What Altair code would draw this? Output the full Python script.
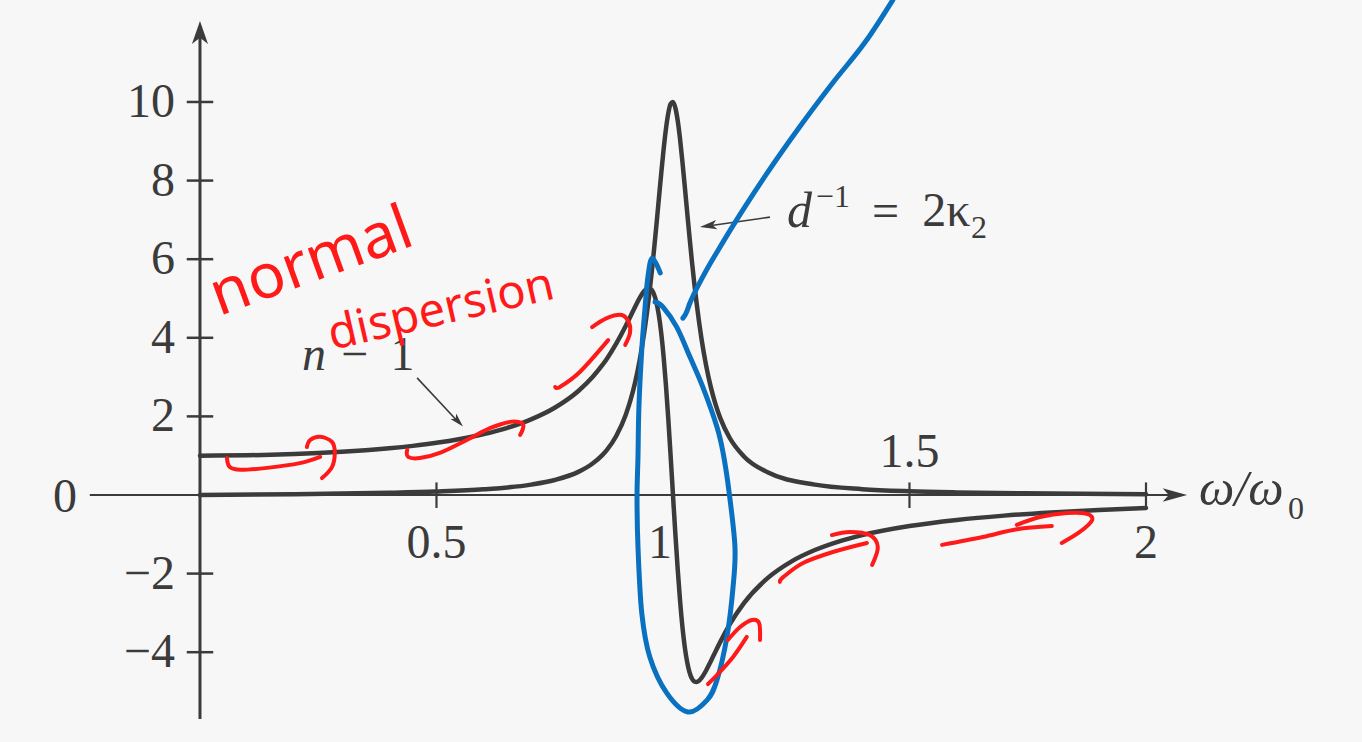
import altair as alt
import pandas as pd

# ---------------------------------------------------------------
# Data: refractive index (n - 1) and absorption (d^-1 = 2 kappa_2)
# of a damped oscillator versus reduced frequency omega / omega_0
# ---------------------------------------------------------------
disp_w = [0.0, 0.1, 0.15, 0.2, 0.25, 0.3, 0.35, 0.4, 0.45, 0.5, 0.55, 0.6, 0.65, 0.7,
          0.75, 0.8, 0.83, 0.85, 0.86, 0.88, 0.9, 0.91, 0.92, 0.93, 0.94, 0.945, 0.95,
          0.955, 0.96, 0.965, 0.97, 0.975, 0.98, 0.985, 0.99, 0.995, 1.0, 1.005, 1.01,
          1.015, 1.02, 1.025, 1.03, 1.035, 1.04, 1.045, 1.05, 1.055, 1.06, 1.07, 1.08,
          1.09, 1.1, 1.12, 1.15, 1.2, 1.25, 1.3, 1.35, 1.4, 1.5, 1.6, 1.7, 1.8, 1.9, 2.0]
disp_n1 = [1.0, 1.01, 1.023, 1.041, 1.066, 1.098, 1.138, 1.188, 1.25, 1.327, 1.425, 1.549,
           1.71, 1.925, 2.221, 2.647, 3.001, 3.296, 3.462, 3.85, 4.299, 4.544, 4.792, 5.022,
           5.199, 5.25, 5.262, 5.218, 5.103, 4.898, 4.581, 4.134, 3.545, 2.812, 1.952, 0.998,
           0.0, -0.983, -1.895, -2.695, -3.357, -3.874, -4.253, -4.512, -4.67, -4.746,
           -4.761, -4.728, -4.662, -4.466, -4.229, -3.98, -3.737, -3.293, -2.752, -2.115,
           -1.694, -1.4, -1.184, -1.02, -0.789, -0.634, -0.525, -0.444, -0.381, -0.332]

abs_w = [0.0, 0.2, 0.4, 0.5, 0.6, 0.7, 0.75, 0.8, 0.83, 0.85, 0.86, 0.88, 0.9, 0.91, 0.92,
         0.93, 0.94, 0.945, 0.95, 0.955, 0.96, 0.965, 0.97, 0.975, 0.98, 0.985, 0.99, 0.995,
         1.0, 1.005, 1.01, 1.015, 1.02, 1.025, 1.03, 1.035, 1.04, 1.045, 1.05, 1.055, 1.06,
         1.07, 1.08, 1.09, 1.1, 1.12, 1.15, 1.2, 1.3, 1.4, 1.5, 1.6, 1.8, 2.0]
abs_k = [0.0, 0.022, 0.057, 0.089, 0.145, 0.264, 0.381, 0.588, 0.801, 1.009, 1.143, 1.502,
         2.036, 2.405, 2.87, 3.457, 4.198, 4.638, 5.127, 5.664, 6.249, 6.872, 7.518, 8.163,
         8.772, 9.3, 9.708, 9.95, 10.0, 9.85, 9.524, 9.05, 8.475, 7.843, 7.194, 6.557, 5.951,
         5.39, 4.877, 4.413, 3.998, 3.298, 2.745, 2.306, 1.957, 1.45, 0.981, 0.577, 0.264,
         0.149, 0.095, 0.065, 0.036, 0.022]

# Axis ticks and their labels
y_ticks = [10, 8, 6, 4, 2, -2, -4]
y_tick_labels = ["10", "8", "6", "4", "2", "\u22122", "\u22124"]
x_ticks = [0.5, 1.0, 1.5, 2.0]
x_tick_labels = ["0.5", "1", "1.5", "2"]

# Blue pen annotations (each stroke: x list, y list)
blue_line_x = [1.021, 1.027, 1.036, 1.063, 1.106, 1.152, 1.199, 1.268, 1.338, 1.408, 1.465]
blue_line_y = [4.50, 4.61, 4.89, 5.55, 6.44, 7.33, 8.19, 9.37, 10.49, 11.55, 12.60]
blue_loop_x = [0.973, 0.956, 0.947, 0.941, 0.934, 0.928, 0.926, 0.924, 0.926, 0.934, 0.951,
               0.987, 1.032, 1.072, 1.093, 1.114, 1.127, 1.131, 1.118, 1.106, 1.093, 1.063,
               1.036, 1.008, 0.979, 0.962]
blue_loop_y = [5.65, 6.03, 5.55, 4.78, 3.69, 2.24, 0.97, -0.05, -1.32, -3.00, -4.12, -5.04,
               -5.52, -5.22, -4.71, -3.61, -2.34, -1.32, 0.13, 1.07, 1.73, 2.75, 3.51, 4.27,
               4.78, 4.91]

# Red pen arrows along the n - 1 curve
red_strokes = [
    ([0.057, 0.063, 0.085, 0.142, 0.211, 0.254], [0.94, 0.71, 0.64, 0.69, 0.81, 0.97]),
    ([0.226, 0.233, 0.254, 0.279, 0.285, 0.279, 0.258], [1.22, 1.40, 1.48, 1.35, 1.07, 0.71, 0.43]),
    ([0.438, 0.440, 0.465, 0.507, 0.564, 0.613, 0.655, 0.681, 0.683, 0.677],
     [1.15, 0.97, 0.94, 1.07, 1.40, 1.70, 1.86, 1.83, 1.70, 1.53]),
    ([0.751, 0.761, 0.803, 0.863], [2.75, 2.75, 3.13, 3.94]),
    ([0.829, 0.860, 0.892, 0.907, 0.909, 0.899], [4.27, 4.50, 4.58, 4.38, 4.12, 3.82]),
    ([1.074, 1.093, 1.127, 1.156], [-4.81, -4.58, -4.12, -3.61]),
    ([1.116, 1.142, 1.167, 1.182, 1.184], [-3.69, -3.36, -3.18, -3.26, -3.69]),
    ([1.226, 1.233, 1.275, 1.338, 1.410], [-2.21, -2.09, -1.73, -1.45, -1.22]),
    ([1.336, 1.374, 1.416, 1.433, 1.421], [-1.02, -0.94, -1.02, -1.32, -1.78]),
    ([1.569, 1.655, 1.727, 1.801], [-1.27, -1.07, -0.87, -0.79]),
    ([1.727, 1.776, 1.833, 1.875, 1.886, 1.860, 1.822], [-0.76, -0.56, -0.46, -0.48, -0.64, -0.94, -1.22]),
]

# ---------------------------------------------------------------
W, H = 1362, 742
X_DOM = [-0.4228, 2.4567]
Y_DOM = [-6.285, 12.595]
INK = "#3b3b3b"
RED = "#ff1a1a"
BLUE = "#0a70c0"
SERIF = "Liberation Serif"
ARROW = "M0,0 L-2,-0.7 L-1.45,0 L-2,0.7 Z"
ARROW_NARROW = "M0,0 L-2,-0.55 L-1.5,0 L-2,0.55 Z"
LAB = 48

xs = alt.Scale(domain=X_DOM, nice=False, zero=False)
ys = alt.Scale(domain=Y_DOM, nice=False, zero=False)


def X(f="x"):
    return alt.X(f"{f}:Q", scale=xs, axis=None)


def Y(f="y"):
    return alt.Y(f"{f}:Q", scale=ys, axis=None)


def strokes_df(strokes):
    rows = []
    for k, (sx, sy) in enumerate(strokes):
        for i, (a, b) in enumerate(zip(sx, sy)):
            rows.append({"x": a, "y": b, "s": k, "i": i})
    return pd.DataFrame(rows)


def text(df, **kw):
    return alt.Chart(df).mark_text(**kw).encode(x=X(), y=Y(), text="t:N")


def head(x, y, angle, size, shape=ARROW, color=INK):
    return alt.Chart(pd.DataFrame({"x": [x], "y": [y]})).mark_point(
        shape=shape, filled=True, size=size, angle=angle, color=color, opacity=1, strokeWidth=0
    ).encode(x=X(), y=Y())


# axes
y_axis = alt.Chart(pd.DataFrame({"x": [0.0], "y": [-5.7], "y2": [11.7]})).mark_rule(
    color=INK, strokeWidth=3).encode(x=X(), y=Y(), y2="y2:Q")
x_axis = alt.Chart(pd.DataFrame({"x": [-0.233], "x2": [2.07], "y": [0.0]})).mark_rule(
    color=INK, strokeWidth=2.2).encode(x=X(), x2="x2:Q", y=Y())
y_tick_marks = alt.Chart(pd.DataFrame({"y": y_ticks})).mark_rule(
    color=INK, strokeWidth=2.5).encode(x=alt.X("a:Q", scale=xs, axis=None), x2="b:Q", y=Y()
).transform_calculate(a="-0.028", b="0.028")
x_tick_marks = alt.Chart(pd.DataFrame({"x": x_ticks})).mark_rule(
    color=INK, strokeWidth=2.2).encode(x=X(), y=alt.Y("a:Q", scale=ys, axis=None), y2="b:Q"
).transform_calculate(a="0.32", b="-0.33")

y_arrow = head(0.0, 12.06, 270, 530, ARROW)
x_arrow = head(2.087, 0.0, 0, 600, ARROW_NARROW)

# tick labels
y_lab_df = pd.DataFrame({"x": [-0.053] * len(y_ticks),
                         "y": [v - 0.38 for v in y_ticks], "t": y_tick_labels})
y_labels = text(y_lab_df, font=SERIF, fontSize=LAB, align="right", baseline="alphabetic", color=INK)
zero_label = text(pd.DataFrame({"x": [-0.26], "y": [-0.43], "t": ["0"]}),
                  font=SERIF, fontSize=LAB, align="right", baseline="alphabetic", color=INK)
x_lab_x = [v - 0.0275 if v == 1.0 else v for v in x_ticks]
x_lab_y = [0.71 if v == 1.5 else -1.6 for v in x_ticks]
x_labels = text(pd.DataFrame({"x": x_lab_x, "y": x_lab_y, "t": x_tick_labels}),
                font=SERIF, fontSize=LAB, align="center", baseline="alphabetic", color=INK)

omega = text(pd.DataFrame({"x": [2.112], "y": [-0.25], "t": ["\u03c9/\u03c9"]}),
             font=SERIF, fontSize=50, fontStyle="italic", align="left", baseline="alphabetic", color=INK)
omega_sub = text(pd.DataFrame({"x": [2.300], "y": [-0.6], "t": ["0"]}),
                 font=SERIF, fontSize=32, align="left", baseline="alphabetic", color=INK)

# curves
disp = alt.Chart(pd.DataFrame({"x": disp_w, "y": disp_n1})).mark_line(
    color=INK, strokeWidth=4.5, interpolate="monotone", strokeCap="round").encode(x=X(), y=Y())
absorb = alt.Chart(pd.DataFrame({"x": abs_w, "y": abs_k})).mark_line(
    color=INK, strokeWidth=4.5, interpolate="monotone", strokeCap="round").encode(x=X(), y=Y())

# curve labels and pointers
n_lab = text(pd.DataFrame({"x": [0.2156], "y": [3.18], "t": ["n"]}),
             font=SERIF, fontSize=LAB, fontStyle="italic", align="left", baseline="alphabetic", color=INK)
minus_lab = text(pd.DataFrame({"x": [0.298], "y": [3.18], "t": ["\u2212"]}),
                 font=SERIF, fontSize=LAB, align="left", baseline="alphabetic", color=INK)
one_lab = text(pd.DataFrame({"x": [0.403], "y": [3.18], "t": ["1"]}),
               font=SERIF, fontSize=LAB, align="left", baseline="alphabetic", color=INK)
n_ptr = alt.Chart(pd.DataFrame({"x": [0.459], "y": [2.98], "x2": [0.548], "y2": [1.83]})).mark_rule(
    color=INK, strokeWidth=1.6).encode(x=X(), y=Y(), x2="x2:Q", y2="y2:Q")
n_head = head(0.556, 1.74, 47, 200, ARROW_NARROW)

d_lab = text(pd.DataFrame({"x": [1.241], "y": [6.82], "t": ["d"]}),
             font=SERIF, fontSize=50, fontStyle="italic", align="left", baseline="alphabetic", color=INK)
d_sup = text(pd.DataFrame({"x": [1.302], "y": [7.33], "t": ["\u22121"]}),
             font=SERIF, fontSize=32, align="left", baseline="alphabetic", color=INK)
eq_lab = text(pd.DataFrame({"x": [1.421], "y": [6.82], "t": ["="]}),
              font=SERIF, fontSize=LAB, align="left", baseline="alphabetic", color=INK)
k_lab = text(pd.DataFrame({"x": [1.527], "y": [6.85], "t": ["2\u03ba"]}),
             font=SERIF, fontSize=LAB, align="left", baseline="alphabetic", color=INK)
k_sub = text(pd.DataFrame({"x": [1.630], "y": [6.54], "t": ["2"]}),
             font=SERIF, fontSize=32, align="left", baseline="alphabetic", color=INK)
k_ptr = alt.Chart(pd.DataFrame({"x": [1.205], "y": [7.07], "x2": [1.07], "y2": [6.84]})).mark_rule(
    color=INK, strokeWidth=1.6).encode(x=X(), y=Y(), x2="x2:Q", y2="y2:Q")
k_head = head(1.057, 6.82, 172, 290, ARROW_NARROW)

# pen annotations
blue_stroke = alt.Chart(pd.DataFrame({"x": blue_line_x, "y": blue_line_y})).mark_line(
    color=BLUE, strokeWidth=5, interpolate="monotone", strokeCap="round"
).encode(x=X(), y=Y())
blue_loop = alt.Chart(strokes_df([(blue_loop_x, blue_loop_y)])).mark_line(
    color=BLUE, strokeWidth=5, interpolate="cardinal", strokeCap="round", strokeJoin="round"
).encode(x=X(), y=Y(), detail="s:N", order="i:Q")
red = alt.Chart(strokes_df(red_strokes)).mark_line(
    color=RED, strokeWidth=4, interpolate="cardinal", strokeCap="round", strokeJoin="round"
).encode(x=X(), y=Y(), detail="s:N", order="i:Q")

normal_txt = text(pd.DataFrame({"x": [0.040], "y": [4.55], "t": ["normal"]}),
                  font="Noto Sans", fontSize=62, angle=340, align="left", baseline="alphabetic", color=RED)
disp_txt = text(pd.DataFrame({"x": [0.279], "y": [3.69], "t": ["dispersion"]}),
                font="Noto Sans", fontSize=47, angle=347, align="left", baseline="alphabetic", color=RED)

chart = alt.layer(
    x_axis, y_axis, y_tick_marks, x_tick_marks, y_arrow, x_arrow,
    y_labels, zero_label, x_labels, omega, omega_sub,
    absorb, disp,
    n_ptr, n_head, n_lab, minus_lab, one_lab,
    k_ptr, k_head, d_lab, d_sup, eq_lab, k_lab, k_sub,
    blue_stroke, blue_loop, red, normal_txt, disp_txt,
).properties(
    width=W, height=H, padding=0, autosize="none", background="#f7f7f7"
).configure_view(stroke=None)

chart.save("out.html", embed_options={"renderer": "svg", "actions": False})
